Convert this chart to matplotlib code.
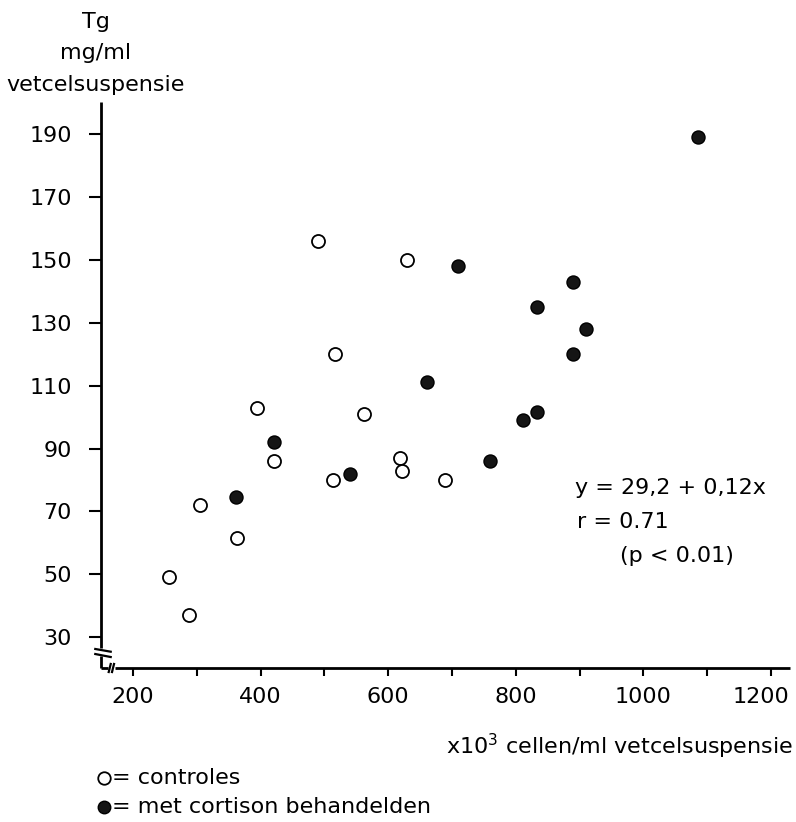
import matplotlib.pyplot as plt
import matplotlib.transforms as mtransforms
from matplotlib.ticker import MultipleLocator

# controles (open circles)
ctrl_x = [490, 630, 517, 395, 562, 421, 618, 622, 514, 689, 305, 363, 256, 287]
ctrl_y = [156, 150, 120, 103, 101, 86, 87, 83, 80, 80, 72, 61.5, 49, 37]

# met cortison behandelden (filled circles)
cort_x = [1086, 710, 890, 833, 910, 889, 661, 834, 812, 421, 759, 540, 362]
cort_y = [189, 148, 143, 135, 128, 120, 111, 101.5, 99, 92, 86, 82, 74.5]

x_ticks = [200, 400, 600, 800, 1000, 1200]
y_ticks = [30, 50, 70, 90, 110, 130, 150, 170, 190]

W, H = 796, 822
fs = 16
plt.rcParams['font.family'] = ['DejaVu Sans']
fig = plt.figure(figsize=(W / 100, H / 100), dpi=100)

# axes box in pixels: left 101, right 790, top 102, bottom 668
ax = fig.add_axes([101 / W, 1 - 668 / H, 689 / W, 566 / H])
ax.set_xlim(149.8, 1229.8)
ax.set_ylim(20.2, 200.2)

ax.scatter(ctrl_x, ctrl_y, s=88, facecolor='white', edgecolor='black', linewidth=1.3, zorder=3)
ax.scatter(cort_x, cort_y, s=88, facecolor='#151515', edgecolor='black', linewidth=1.0, zorder=3)

ax.set_xticks(x_ticks)
ax.xaxis.set_minor_locator(MultipleLocator(100))
ax.set_yticks(y_ticks)
ax.tick_params(axis='x', which='both', direction='out', length=6, width=1.5, pad=8, labelsize=fs)
ax.tick_params(axis='y', direction='out', length=9, width=1.5, pad=12, labelsize=fs)

# keep the last x label inside the picture
fig.canvas.draw()
last = ax.get_xticklabels()[-1]
last.set_transform(last.get_transform() +
                   mtransforms.ScaledTranslation(-10 / 100, 0, fig.dpi_scale_trans))

for s in ax.spines.values():
    s.set_visible(False)

# axes with break marks (axes fraction coords)
kw = dict(transform=ax.transAxes, color='black', lw=2.0, clip_on=False, solid_capstyle='butt')
ax.plot([0, 0], [1, 0.0353], **kw)
ax.plot([0, 0], [0.0212, 0], **kw)
ax.plot([0, 0.0102], [0, 0], **kw)
ax.plot([0.0199, 1], [0, 0], **kw)
kw2 = dict(transform=ax.transAxes, color='black', lw=1.6, clip_on=False)
ax.plot([-0.0083, 0.0141], [0.0336, 0.0288], **kw2)
ax.plot([-0.0083, 0.0141], [0.0247, 0.0194], **kw2)
ax.plot([0.0112, 0.0141], [-0.0071, 0.0071], **kw2)
ax.plot([0.016, 0.0189], [-0.0071, 0.0071], **kw2)

# y label (stacked above axis)
for txt, yp in [('Tg', 22), ('mg/ml', 53), ('vetcelsuspensie', 85)]:
    fig.text(96 / W, 1 - yp / H, txt, ha='center', va='center', fontsize=fs)

# x label
fig.text(793 / W, 1 - 746 / H, 'x10$^{3}$ cellen/ml vetcelsuspensie',
         ha='right', va='center', fontsize=fs)

# regression annotation
fig.text(575 / W, 1 - 488 / H, 'y = 29,2 + 0,12x', ha='left', va='center', fontsize=fs)
fig.text(577 / W, 1 - 522 / H, 'r = 0.71', ha='left', va='center', fontsize=fs)
fig.text(620 / W, 1 - 556 / H, '(p < 0.01)', ha='left', va='center', fontsize=fs)

# legend
ax.plot([104 / W], [1 - 778 / H], marker='o', ms=9, mfc='white', mec='black', mew=1.3,
        transform=fig.transFigure, clip_on=False)
ax.plot([104 / W], [1 - 807 / H], marker='o', ms=9, mfc='#151515', mec='black', mew=1.0,
        transform=fig.transFigure, clip_on=False)
fig.text(112 / W, 1 - 778 / H, '= controles', ha='left', va='center', fontsize=fs)
fig.text(112 / W, 1 - 807 / H, '= met cortison behandelden', ha='left', va='center', fontsize=fs)

fig.savefig('out.png', dpi=100)
